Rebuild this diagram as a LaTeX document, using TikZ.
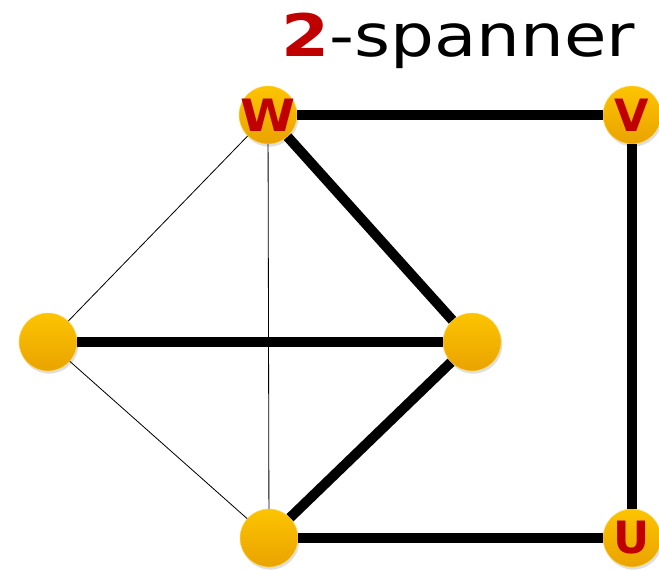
\documentclass[tikz,border=0pt]{standalone}
\usepackage{fontspec}
\setmainfont{DejaVu Sans}
\usetikzlibrary{shadows}

\definecolor{goldtop}{RGB}{252,196,0}
\definecolor{goldbot}{RGB}{234,163,0}
\definecolor{goldrim}{RGB}{255,214,90}
\definecolor{labelred}{RGB}{192,0,0}

\tikzset{mnode/.style = {shape = circle,
                         draw = goldrim,
                         top color = goldtop,
                         bottom color = goldbot,
                         inner sep = 0pt,
                         minimum size = 1.74cm,
                         drop shadow = {opacity = 0.25,
                                        shadow xshift = 0.04cm,
                                        shadow yshift = -0.08cm},
                         font = \fontsize{38}{38}\selectfont\bfseries,
                         text = labelred},
         spanedge/.style = {line width = 0.3cm, draw = black},
         graphedge/.style = {line width = 0.7pt, draw = black}}

\begin{document}
\begin{tikzpicture}[x = 0.03cm, y = -0.03cm]
		\useasboundingbox (0,0) rectangle (659,570);
		\node[mnode] (w) at (268,115) {\makebox[0pt]{\scalebox{1.12}[1]{W}}};
		\node[mnode] (v) at (632,115) {V};
		\node[mnode] (u) at (632,538) {U};
		\node[mnode] (a) at (48,342) {};
		\node[mnode] (c) at (472,342) {};
		\node[mnode] (b) at (269,538) {};
		% edges of the original graph
		\path (w) edge[graphedge] (a);
		\path (a) edge[graphedge] (b);
		\path (w) edge[graphedge] (b);
		% edges kept in the spanner
		\path (w) edge[spanedge] (v);
		\path (v) edge[spanedge] (u);
		\path (u) edge[spanedge] (b);
		\path (b) edge[spanedge] (c);
		\path (c) edge[spanedge] (w);
		\path (a) edge[spanedge] (c);
		\node[anchor = base west, inner sep = 0pt,
		      font = \fontsize{50}{50}\selectfont] (title) at (281,57)
		      {\scalebox{1.18}[1]{\textcolor{labelred}{\bfseries 2}-spanner}};
	\end{tikzpicture}
\end{document}
